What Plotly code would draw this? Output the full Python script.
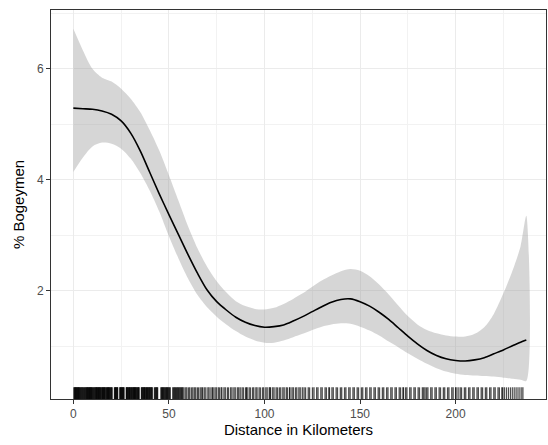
import plotly.graph_objects as go

# ---- data ----
dist = [0, 5, 10, 15, 20, 25, 30, 35, 40, 45, 50, 55, 60, 65, 70, 75, 80, 85, 90, 95,
        100, 105, 110, 115, 120, 125, 130, 135, 140, 145, 150, 155, 160, 165, 170, 175,
        180, 185, 190, 195, 200, 205, 210, 215, 220, 225, 230, 234, 237]
fit = [5.29, 5.28, 5.27, 5.24, 5.18, 5.06, 4.84, 4.52, 4.13, 3.74, 3.37, 3.01, 2.65, 2.31,
       2.01, 1.80, 1.65, 1.52, 1.43, 1.37, 1.34, 1.35, 1.38, 1.45, 1.53, 1.62, 1.71, 1.79,
       1.84, 1.85, 1.80, 1.72, 1.61, 1.48, 1.33, 1.18, 1.04, 0.92, 0.83, 0.77, 0.74, 0.73,
       0.75, 0.79, 0.86, 0.93, 1.01, 1.07, 1.11]
upper = [6.72, 6.33, 6.00, 5.84, 5.77, 5.64, 5.46, 5.22, 4.89, 4.52, 4.08, 3.62, 3.16, 2.76,
         2.43, 2.17, 1.97, 1.81, 1.72, 1.67, 1.66, 1.69, 1.76, 1.85, 1.95, 2.07, 2.18, 2.27,
         2.35, 2.39, 2.36, 2.26, 2.11, 1.93, 1.73, 1.54, 1.39, 1.29, 1.23, 1.19, 1.17, 1.17,
         1.22, 1.34, 1.58, 1.95, 2.38, 2.80, 3.35]
lower = [4.14, 4.40, 4.60, 4.67, 4.65, 4.56, 4.38, 4.12, 3.80, 3.42, 2.98, 2.58, 2.22, 1.92,
         1.70, 1.53, 1.39, 1.27, 1.17, 1.10, 1.06, 1.06, 1.10, 1.16, 1.22, 1.29, 1.35, 1.39,
         1.41, 1.40, 1.35, 1.28, 1.19, 1.08, 0.98, 0.87, 0.77, 0.68, 0.60, 0.54, 0.50, 0.48,
         0.47, 0.46, 0.45, 0.43, 0.41, 0.39, 0.37]

rug_near = [0.3, 0.55, 0.8, 1.0, 1.2, 1.45, 1.7, 1.9, 2.1, 2.35, 2.6, 2.8, 3.0, 3.25, 3.5,
            3.8, 4.1, 4.4, 4.7, 5.0, 5.3, 5.6, 5.9, 6.2, 6.5, 6.8, 7.0, 7.3, 7.5, 7.7, 7.95,
            8.2, 8.4, 8.6, 8.85, 9.1, 9.3, 9.5, 9.75, 10.0, 10.3, 10.6, 10.9, 11.2, 11.5,
            11.75, 12.0, 12.2, 12.4, 12.65, 12.9, 13.1, 13.3, 13.55, 13.8, 14.0, 14.2, 14.55,
            14.9, 15.1, 15.3, 15.55, 15.8, 16.0, 16.2, 16.45, 16.7, 17.05, 17.4, 17.6, 17.8,
            18.05, 18.3, 18.5, 18.7, 18.95, 19.2, 19.5, 19.8, 20.0, 20.3, 21.5, 21.7, 21.9,
            22.1, 22.3, 22.55, 22.8, 23.0, 23.2, 24.3, 24.5, 24.7, 24.95, 25.2, 25.4, 25.6,
            25.85, 26.1, 26.3, 26.5, 27.7, 27.85, 28.0, 28.25, 28.5, 28.8, 29.1, 29.25, 29.4,
            29.7, 30.0, 30.25, 30.5, 30.8, 31.1, 31.35, 31.6, 31.8, 32.0, 32.2, 32.4, 32.65,
            32.9, 33.2, 33.5, 33.75, 34.0, 34.2, 34.4, 35.6, 35.8, 36.0, 36.3, 36.6, 36.85,
            37.1, 37.3, 37.5, 37.85, 38.2, 38.4, 38.6, 38.85, 39.1, 39.4, 39.7, 39.95, 40.2,
            40.5, 40.8, 41.05, 41.3, 42.4, 42.7, 43.0, 43.3, 43.6, 43.85, 44.1, 45.8, 46.1,
            46.4, 46.65, 46.9, 47.2, 47.5, 47.85, 48.2, 48.5, 48.8, 49.05, 49.3, 49.65, 50.0,
            50.35, 50.7, 52.0, 52.4, 52.8, 53.15, 53.5, 53.9, 54.3, 54.65, 55.0, 55.4, 55.8,
            56.2, 56.6, 56.95, 57.3]
rug_far = [57.9, 58.8, 59.4, 60.3, 60.9, 61.8, 62.5, 63.3, 64.0, 64.9, 65.5, 66.4, 67.2,
           67.6, 68.5, 69.3, 70.4, 71.0, 72.0, 72.8, 73.1, 74.1, 74.8, 75.8, 76.4, 77.3,
           77.7, 78.8, 79.5, 80.6, 81.2, 82.3, 83.0, 84.0, 84.7, 85.8, 86.5, 87.3, 88.3,
           89.0, 90.1, 90.6, 90.9, 92.0, 92.7, 93.8, 94.4, 95.5, 96.1, 97.2, 97.9, 99.0,
           99.6, 100.7, 101.4, 102.5, 102.9, 103.2, 104.3, 105.0, 106.1, 106.8, 107.8,
           108.5, 109.6, 110.3, 111.4, 112.0, 113.1, 113.3, 114.4, 115.1, 116.2, 116.9,
           118.0, 118.7, 119.8, 120.7, 121.5, 122.9, 123.6, 125.1, 125.9, 127.3, 128.0,
           129.5, 130.2, 131.7, 132.4, 133.7, 134.0, 135.3, 136.0, 137.5, 138.2, 139.7,
           140.4, 141.9, 142.6, 144.1, 144.8, 146.3, 147.0, 148.5, 149.2, 150.7, 151.4,
           152.9, 153.6, 155.1, 155.8, 157.3, 158.0, 159.5, 160.2, 161.7, 162.4, 163.9,
           164.6, 166.1, 166.8, 168.3, 169.0, 170.5, 171.2, 172.5, 172.7, 173.8, 174.5,
           176.0, 176.7, 178.2, 178.9, 180.4, 181.1, 182.6, 183.3, 184.0, 184.8, 185.5,
           187.0, 187.7, 189.2, 189.9, 191.4, 192.1, 193.6, 194.3, 195.8, 196.5, 198.0,
           198.7, 200.0, 200.2, 201.3, 202.4, 203.1, 204.6, 205.3, 206.8, 207.5, 209.0,
           209.7, 211.2, 211.9, 213.4, 214.1, 215.6, 216.3, 217.8, 218.5, 220.0, 220.7,
           222.2, 222.9, 224.2, 224.6, 225.5, 226.6, 227.7, 228.8, 229.9, 231.0, 232.1,
           233.2, 234.3, 235.2]
rug = rug_near + rug_far

x_ticks = [0, 50, 100, 150, 200]
y_ticks = [2, 4, 6]
x_range = [-11.7, 247.3]
y_range = [0.045, 7.06]

fig = go.Figure()

fig.add_trace(go.Scatter(
    x=dist + dist[::-1], y=upper + lower[::-1],
    fill="toself", fillcolor="rgba(153,153,153,0.4)",
    line=dict(width=0, shape="spline", smoothing=0.8),
    mode="lines", hoverinfo="skip", showlegend=False))

fig.add_trace(go.Scatter(
    x=dist, y=fit, mode="lines",
    line=dict(color="black", width=1.6, shape="spline", smoothing=0.8),
    showlegend=False))

shapes = []
for v in rug:
    shapes.append(dict(type="line", xref="x", yref="y domain",
                       x0=v, x1=v, y0=0, y1=0.03,
                       line=dict(color="rgba(0,0,0,0.7)", width=1.3)))

axis_common = dict(
    showline=True, linecolor="#333333", linewidth=1, mirror=True,
    ticks="outside", ticklen=4, tickcolor="#333333", tickwidth=1,
    tickfont=dict(family="Liberation Sans, Arial, sans-serif", size=12, color="#4D4D4D"),
    showgrid=True, gridcolor="#EBEBEB", gridwidth=1, zeroline=False,
)

fig.update_layout(
    width=548, height=445,
    margin=dict(l=51, r=2, t=10, b=46),
    paper_bgcolor="white", plot_bgcolor="white",
    shapes=shapes,
    font=dict(family="Liberation Sans, Arial, sans-serif"),
    xaxis=dict(range=x_range, tickvals=x_ticks, **axis_common,
               minor=dict(dtick=25, tick0=0, showgrid=True, gridcolor="#F2F2F2",
                          gridwidth=0.6, ticks=""),
               title=dict(text="Distance in Kilometers", standoff=4,
                          font=dict(size=15, color="black"))),
    yaxis=dict(range=y_range, tickvals=y_ticks, **axis_common,
               minor=dict(dtick=1, tick0=0, showgrid=True, gridcolor="#F2F2F2",
                          gridwidth=0.6, ticks=""),
               title=dict(text="% Bogeymen", standoff=8,
                          font=dict(size=15, color="black"))),
)

fig.write_html("out.html")
